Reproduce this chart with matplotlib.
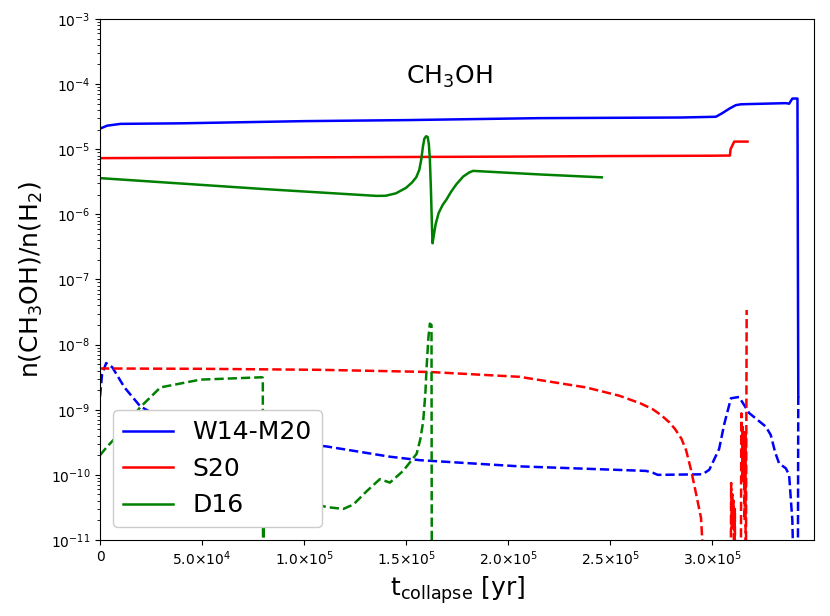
import matplotlib
matplotlib.use("Agg")
import matplotlib.pyplot as plt
from matplotlib.ticker import FuncFormatter, FixedLocator

# --- W14-M20 (blue) ---------------------------------------------------------
w14_t = [0, 3.5e3, 1.0e4, 4.0e4, 1.0e5, 1.5e5, 2.15e5, 2.85e5, 3.019e5,
         3.052e5, 3.085e5, 3.117e5, 3.142e5, 3.362e5, 3.378e5, 3.394e5,
         3.419e5, 3.423e5]
w14_tot = [2.07e-5, 2.3e-5, 2.45e-5, 2.5e-5, 2.7e-5, 2.8e-5, 3.0e-5, 3.07e-5,
           3.15e-5, 3.6e-5, 4.2e-5, 4.75e-5, 4.9e-5, 5.1e-5, 5.0e-5, 6.0e-5,
           6.0e-5, 1.6e-9]
w14_gas_t = [0, 1.0e3, 3.0e3, 6.0e3, 1.2e4, 1.98e4, 3.0e4, 5.0e4, 7.0e4,
             9.0e4, 1.111e5, 1.421e5, 1.568e5, 2.057e5, 2.677e5, 2.709e5,
             2.734e5, 2.954e5, 2.987e5, 3.035e5, 3.06e5, 3.093e5, 3.133e5,
             3.182e5, 3.264e5, 3.288e5, 3.31e5, 3.329e5, 3.362e5, 3.378e5,
             3.394e5, 3.41e5, 3.42e5, 3.423e5]
w14_gas = [1.6e-9, 3.5e-9, 5.2e-9, 4.5e-9, 2.2e-9, 1.12e-9, 7.5e-10, 5.0e-10,
           3.8e-10, 3.2e-10, 2.73e-10, 1.9e-10, 1.68e-10, 1.35e-10, 1.15e-10,
           1.08e-10, 1.0e-10, 1.02e-10, 1.2e-10, 2.5e-10, 6.0e-10, 1.5e-9,
           1.57e-9, 8.9e-10, 5.5e-10, 4.1e-10, 2.2e-10, 1.5e-10, 1.26e-10,
           1.0e-10, 2.0e-11, 1e-13, 1e-13, 1.6e-9]

# --- S20 (red) ---------------------------------------------------------------
s20_t = [0, 5.0e4, 1.0e5, 1.5e5, 2.0e5, 2.5e5, 3.0e5, 3.088e5, 3.091e5,
         3.109e5, 3.174e5]
s20_tot = [7.3e-6, 7.4e-6, 7.5e-6, 7.6e-6, 7.7e-6, 7.85e-6, 7.95e-6, 8.0e-6,
           1.0e-5, 1.31e-5, 1.31e-5]
s20_gas_t = [0, 5.0e4, 1.079e5, 1.617e5, 2.057e5, 2.383e5, 2.546e5, 2.65e5,
             2.709e5, 2.75e5, 2.791e5, 2.82e5, 2.85e5, 2.873e5, 2.897e5,
             2.92e5, 2.946e5, 2.99e5, 3.09e5,
             3.094e5, 3.097e5, 3.100e5, 3.103e5, 3.106e5, 3.109e5, 3.112e5,
             3.115e5, 3.140e5, 3.144e5, 3.148e5, 3.151e5, 3.154e5, 3.157e5,
             3.160e5, 3.163e5, 3.166e5, 3.170e5]
s20_gas = [4.3e-9, 4.25e-9, 4.1e-9, 3.8e-9, 3.2e-9, 2.2e-9, 1.64e-9, 1.25e-9,
           1.02e-9, 8.3e-10, 6.4e-10, 5.0e-10, 3.6e-10, 2.4e-10, 1.2e-10,
           5.5e-11, 2.2e-11, 1e-13, 1e-13,
           7.5e-11, 1.5e-11, 5e-11, 2e-11, 4e-11, 1e-12, 3e-11,
           1e-13, 1e-13, 8.8e-10, 1e-10, 6e-10, 8e-11, 4e-10,
           2e-11, 5e-10, 1e-12, 3.4e-8]

# --- D16 (green) -------------------------------------------------------------
d16_t = [0, 8.0e4, 1.356e5, 1.40e5, 1.45e5, 1.50e5, 1.53e5, 1.55e5, 1.565e5,
         1.575e5, 1.583e5, 1.59e5, 1.598e5, 1.606e5, 1.612e5, 1.617e5,
         1.622e5, 1.627e5, 1.63e5, 1.635e5, 1.645e5, 1.66e5, 1.68e5, 1.699e5,
         1.72e5, 1.747e5, 1.78e5, 1.81e5, 1.829e5, 2.155e5, 2.46e5]
d16_tot = [3.6e-6, 2.45e-6, 1.92e-6, 1.93e-6, 2.1e-6, 2.55e-6, 3.1e-6, 3.7e-6,
           4.8e-6, 7.0e-6, 1.1e-5, 1.45e-5, 1.58e-5, 1.55e-5, 1.2e-5, 7.0e-6,
           2.5e-6, 7.0e-7, 3.6e-7, 4.5e-7, 7.0e-7, 1.05e-6, 1.4e-6, 1.7e-6,
           2.2e-6, 2.9e-6, 3.8e-6, 4.4e-6, 4.65e-6, 4.1e-6, 3.7e-6]
d16_gas_t = [0, 3.0e3, 6.8e3, 1.2e4, 1.98e4, 2.96e4, 4.92e4, 7.93e4, 7.98e4,
             8.0e4, 8.03e4, 9.0e4, 1.0e5, 1.111e5, 1.193e5, 1.242e5, 1.307e5,
             1.372e5, 1.421e5, 1.486e5, 1.552e5, 1.57e5, 1.584e5, 1.595e5,
             1.601e5, 1.61e5, 1.617e5, 1.625e5, 1.627e5]
d16_gas = [2.0e-10, 2.6e-10, 3.5e-10, 5.5e-10, 1.1e-9, 2.2e-9, 2.9e-9, 3.15e-9,
           3.1e-9, 1e-13, 2.5e-11, 3.5e-11, 4.0e-11, 3.2e-11, 3.0e-11, 3.5e-11,
           5.6e-11, 8.6e-11, 7.6e-11, 1.15e-10, 2.1e-10, 3.5e-10, 6.5e-10,
           1.8e-9, 4.5e-9, 1.3e-8, 2.1e-8, 2.0e-8, 1e-13]

x_ticks = [0, 5e4, 1e5, 1.5e5, 2e5, 2.5e5, 3e5]


def sci_fmt(v, pos):
    if v == 0:
        return "0"
    exp = int(f"{v:e}".split("e")[1])
    mant = v / 10 ** exp
    return rf"${mant:.1f}{{\times}}10^{{{exp}}}$"


fig = plt.figure(figsize=(8.3, 6.16), dpi=100)
ax = fig.add_axes([0.1205, 0.1234, 0.8602, 0.8458])

lw = 1.8
ax.plot(w14_t, w14_tot, color="blue", lw=lw, label="W14-M20")
ax.plot(s20_t, s20_tot, color="red", lw=lw, label="S20")
ax.plot(d16_t, d16_tot, color="green", lw=lw, label="D16")
ax.plot(w14_gas_t, w14_gas, color="blue", lw=lw, ls="--")
ax.plot(s20_gas_t, s20_gas, color="red", lw=lw, ls="--")
ax.plot(d16_gas_t, d16_gas, color="green", lw=lw, ls="--")

ax.set_yscale("log")
ax.set_ylim(1e-11, 1e-3)
ax.set_xlim(0, 3.5e5)
ax.xaxis.set_major_locator(FixedLocator(x_ticks))
ax.xaxis.set_major_formatter(FuncFormatter(sci_fmt))
ax.tick_params(labelsize=10)

ax.text(1.5e5, 1e-4, r"CH$_3$OH", fontsize=18)
ax.set_xlabel(r"t$_{\rm collapse}$ [yr]", fontsize=18)
ax.set_ylabel(r"n(CH$_3$OH)/n(H$_2$)", fontsize=18)
ax.legend(loc="lower left", fontsize=18, framealpha=1)

fig.savefig("out.png", dpi=100)
